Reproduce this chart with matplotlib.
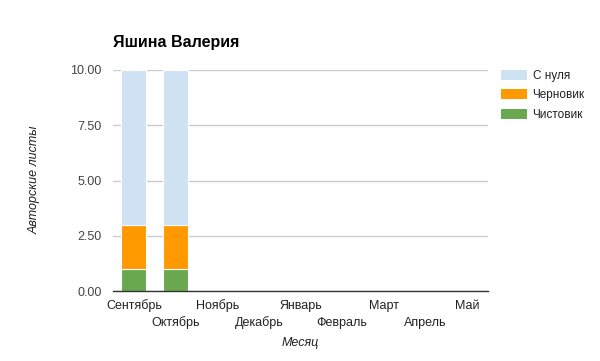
import matplotlib
matplotlib.use("Agg")
import matplotlib.pyplot as plt
from matplotlib.patches import Patch
import numpy as np

plt.rcParams['font.family'] = ['Liberation Sans', 'DejaVu Sans']

months = ["Сентябрь", "Октябрь", "Ноябрь", "Декабрь", "Январь", "Февраль", "Март", "Апрель", "Май"]
chistovik = [1, 1, 0, 0, 0, 0, 0, 0, 0]
chernovik = [2, 2, 0, 0, 0, 0, 0, 0, 0]
s_nulya = [7, 7, 0, 0, 0, 0, 0, 0, 0]
yticks = [0, 2.5, 5, 7.5, 10]

c_green = "#6aa84f"
c_orange = "#ff9900"
c_blue = "#cfe2f3"

W, H = 600, 361
fig = plt.figure(figsize=(W / 100, H / 100), dpi=100)
ax = fig.add_axes([113 / W, 1 - 291 / H, 375 / W, 221 / H])

x = np.arange(len(months))
bw = 0.6
b1 = np.array(chistovik, dtype=float)
b2 = b1 + np.array(chernovik, dtype=float)
ax.bar(x, chistovik, bw, color=c_green, edgecolor="white", linewidth=0.8, zorder=3)
ax.bar(x, chernovik, bw, bottom=b1, color=c_orange, edgecolor="white", linewidth=0.8, zorder=3)
ax.bar(x, s_nulya, bw, bottom=b2, color=c_blue, edgecolor="white", linewidth=0.8, zorder=3)

ax.set_xlim(-0.5, len(months) - 0.5)
ax.set_ylim(0, 10)
ax.set_yticks(yticks)
ax.set_yticklabels([f"{v:.2f}" for v in yticks], fontsize=9, color="#444444")
ax.yaxis.grid(True, color="#cccccc", linewidth=1, zorder=0)
ax.tick_params(axis="y", length=0, pad=8)
ax.tick_params(axis="x", length=0)
ax.set_xticks([])
for s in ["top", "right", "left"]:
    ax.spines[s].set_visible(False)
ax.spines["bottom"].set_color("#333333")
ax.spines["bottom"].set_linewidth(1)
ax.spines["bottom"].set_zorder(4)

for i, m in enumerate(months):
    yoff = -15 if i % 2 == 0 else -32
    ax.annotate(m, xy=(i, 0), xycoords=("data", "axes fraction"),
                xytext=(0, yoff), textcoords="offset pixels",
                ha="center", va="center", fontsize=9, color="#222222")

fig.text(113 / W, 1 - 43 / H, "Яшина Валерия", fontsize=11.5, fontweight="bold",
         ha="left", va="center", color="#000000")
fig.text(300 / W, 1 - 343 / H, "Месяц", fontsize=9, style="italic",
         ha="center", va="center", color="#222222")
fig.text(35 / W, 1 - 180 / H, "Авторские листы", fontsize=9, style="italic",
         rotation=90, ha="center", va="center", color="#222222")

handles = [Patch(facecolor=c_blue), Patch(facecolor=c_orange), Patch(facecolor=c_green)]
labels = ["С нуля", "Черновик", "Чистовик"]
leg = fig.legend(handles, labels, loc="upper left", bbox_to_anchor=(496 / W, 1 - 65 / H),
                 frameon=False, fontsize=8.5, handlelength=2.2, handleheight=0.95,
                 handletextpad=0.5, labelspacing=0.62, borderaxespad=0)
for t in leg.get_texts():
    t.set_color("#222222")

fig.savefig("out.png", dpi=100)
